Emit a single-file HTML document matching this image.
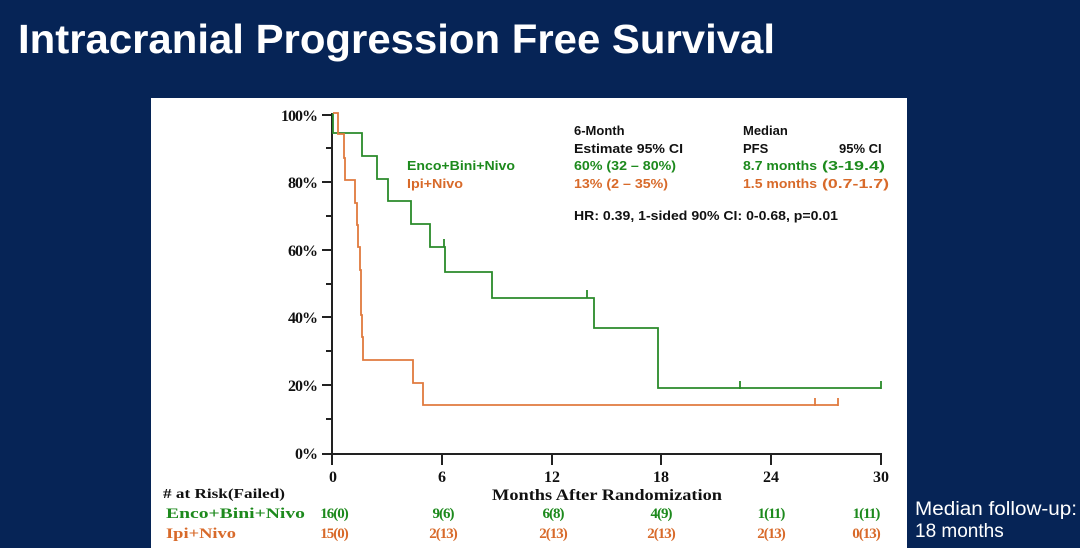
<!DOCTYPE html>
<html><head><meta charset="utf-8"><style>
body{margin:0;width:1080px;height:548px;background:#062456;overflow:hidden}
svg{display:block}
.s{font-family:"Liberation Serif",serif;font-weight:bold}
.a{font-family:"Liberation Sans",sans-serif;font-weight:bold;font-size:13px}
</style></head><body>
<svg width="1080" height="548" xmlns="http://www.w3.org/2000/svg">
<rect width="1080" height="548" fill="#062456"/>
<text x="18" y="53" fill="#fff" font-family="Liberation Sans,sans-serif" font-weight="bold" font-size="41" textLength="757" lengthAdjust="spacingAndGlyphs">Intracranial Progression Free Survival</text>
<rect x="151" y="98" width="756" height="450" fill="#fff"/>
<g stroke="#222" stroke-width="2" fill="none">
<line x1="332" y1="113" x2="332" y2="454"/>
<line x1="322" y1="454" x2="882" y2="454"/>
<path d="M322 115h10M322 182h10M322 250h10M322 317h10M322 385h10M326 148h6M326 216h6M326 284h6M326 351h6M326 419h6"/>
<path d="M332 454v11M442 454v11M552 454v11M661 454v11M771 454v11M881 454v11"/>
</g>
<g class="s" font-size="16" fill="#111" text-anchor="end" letter-spacing="-1">
<text x="317" y="121">100%</text><text x="317" y="188">80%</text><text x="317" y="256">60%</text><text x="317" y="323">40%</text><text x="317" y="391">20%</text><text x="317" y="459">0%</text>
</g>
<g class="s" font-size="16" fill="#111" text-anchor="middle">
<text x="333" y="482">0</text><text x="442" y="482">6</text><text x="552" y="482">12</text><text x="661" y="482">18</text><text x="771" y="482">24</text><text x="881" y="482">30</text>
<text x="607" y="500" textLength="230" lengthAdjust="spacingAndGlyphs">Months After Randomization</text>
</g>
<text class="s" x="163" y="498" font-size="14" fill="#111" textLength="122" lengthAdjust="spacingAndGlyphs"># at Risk(Failed)</text>
<g class="s" font-size="15" fill="#1d8a1d">
<text x="166" y="518" textLength="139" lengthAdjust="spacingAndGlyphs">Enco+Bini+Nivo</text>
<g text-anchor="middle" letter-spacing="-1"><text x="334" y="518">16(0)</text><text x="443" y="518">9(6)</text><text x="553" y="518">6(8)</text><text x="661" y="518">4(9)</text><text x="771" y="518">1(11)</text><text x="866" y="518">1(11)</text></g>
</g>
<g class="s" font-size="15" fill="#d86a2a">
<text x="166" y="538" textLength="70" lengthAdjust="spacingAndGlyphs">Ipi+Nivo</text>
<g text-anchor="middle" letter-spacing="-1"><text x="334" y="538">15(0)</text><text x="443" y="538">2(13)</text><text x="553" y="538">2(13)</text><text x="661" y="538">2(13)</text><text x="771" y="538">2(13)</text><text x="866" y="538">0(13)</text></g>
</g>
<path fill="none" stroke="#2a8a2a" stroke-width="1.8" d="M333 113V133H362V156H377V179H388V201H411V224H430V247H445V272H492V298H594V328H658V388H881M444 239v8M587 290v8M740 381v8M881 381v8"/>
<path fill="none" stroke="#e07a3e" stroke-width="1.8" d="M333 113H338V134H344V158H345V180H355V203H357V225H358V247H360V270H361V315H362V337H363V360H413V383H423V405H838M815 398v8M838 398v8"/>
<g lengthAdjust="spacingAndGlyphs">
<text class="a" x="407" y="170" fill="#1d8a1d" textLength="108" lengthAdjust="spacingAndGlyphs">Enco+Bini+Nivo</text>
<text class="a" x="407" y="188" fill="#d86a2a" textLength="56" lengthAdjust="spacingAndGlyphs">Ipi+Nivo</text>
<text class="a" x="574" y="135" fill="#111">6-Month</text>
<text class="a" x="574" y="153" fill="#111" textLength="109" lengthAdjust="spacingAndGlyphs">Estimate 95% CI</text>
<text class="a" x="574" y="170" fill="#1d8a1d" textLength="102" lengthAdjust="spacingAndGlyphs">60% (32 – 80%)</text>
<text class="a" x="574" y="188" fill="#d86a2a" textLength="94" lengthAdjust="spacingAndGlyphs">13% (2 – 35%)</text>
<text class="a" x="743" y="135" fill="#111">Median</text>
<text class="a" x="743" y="153" fill="#111">PFS</text>
<text class="a" x="839" y="153" fill="#111">95% CI</text>
<text class="a" x="743" y="170" fill="#1d8a1d" textLength="74" lengthAdjust="spacingAndGlyphs">8.7 months</text>
<text class="a" x="822" y="170" fill="#1d8a1d" textLength="63" lengthAdjust="spacingAndGlyphs">(3-19.4)</text>
<text class="a" x="743" y="188" fill="#d86a2a" textLength="74" lengthAdjust="spacingAndGlyphs">1.5 months</text>
<text class="a" x="822" y="188" fill="#d86a2a" textLength="67" lengthAdjust="spacingAndGlyphs">(0.7-1.7)</text>
<text class="a" x="574" y="220" fill="#111" textLength="264" lengthAdjust="spacingAndGlyphs">HR: 0.39, 1-sided 90% CI: 0-0.68, p=0.01</text>
</g>
<text x="915" y="515" fill="#fff" font-family="Liberation Sans,sans-serif" font-size="19" textLength="162" lengthAdjust="spacingAndGlyphs">Median follow-up:</text>
<text x="915" y="537" fill="#fff" font-family="Liberation Sans,sans-serif" font-size="19">18 months</text>
</svg>
</body></html>
